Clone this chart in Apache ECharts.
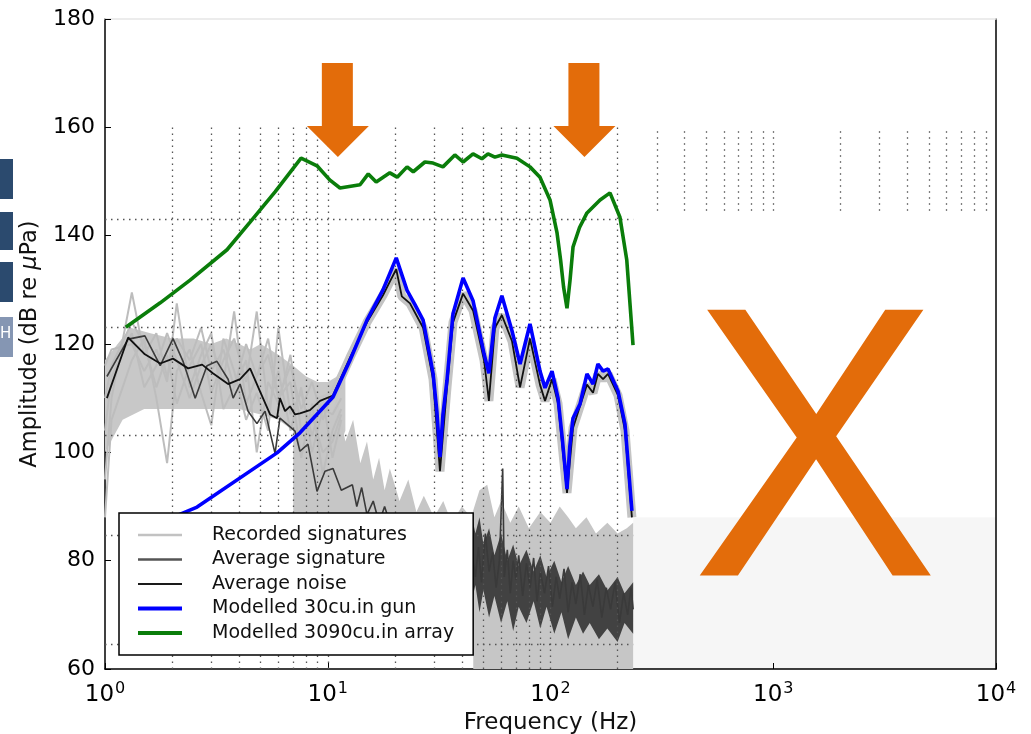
<!DOCTYPE html>
<html><head><meta charset="utf-8">
<script src="https://cdn.jsdelivr.net/npm/echarts@6/dist/echarts.min.js"></script>
<style>html,body{margin:0;padding:0;background:#fff}#c{width:1031px;height:734px}</style>
</head><body><div id="c"></div><script>
// ---------------- data (frequency in Hz, amplitude in dB re uPa) ----------------
const legendNames = ['Recorded signatures','Average signature','Average noise','Modelled 30cu.in gun','Modelled 3090cu.in array'];

const greenFreq = [1.24,1.77,2.41,3.53,4.48,5.80,7.59,8.95,10.2,11.35,13.96,15.2,16.5,19.0,20.5,22.7,24.2,27.3,29.7,32.9,37.2,40.5,44.9,49.2,52.4,56.3,60.5,70.7,80.9,89.7,99.5,107,111,114.5,118.6,122.4,126.2,135,145.8,166.9,185,205,220,234.7];
const greenDb   = [123.1,127.6,131.8,137.4,142.5,148.1,154.3,152.9,150.3,148.8,149.4,151.4,149.9,151.6,150.8,152.7,151.8,153.6,153.4,152.7,154.9,153.6,155.1,154.2,155.1,154.5,154.9,154.3,152.7,150.8,146.6,140.5,135.5,130.5,126.6,131.8,137.9,141.5,144.2,146.6,147.9,143.4,135.5,119.8];

const blueFreq = [1.44,2.59,5.92,7.5,10.56,12.59,15.0,17.7,20.3,22.7,24.6,26.8,29.7,30.9,31.9,32.9,34.3,36.5,40.5,44.9,50.3,52.9,56.3,60.5,67.2,73.0,80.9,89.7,94.5,101.6,108.1,113,118.6,122,126.2,135.6,145.8,155.2,163.3,172.2,181.2,201,216,232];
const blueDb   = [85.5,89.9,99.9,103.6,110.2,117.0,124.4,130.0,135.9,129.9,127.3,124.4,114.6,107.5,99.1,107.0,113.3,125.6,132.2,128.0,118.2,114.6,124.8,128.9,122.4,116.3,123.7,115.0,111.9,115.0,110.0,102.5,93.2,101,106.3,108.9,114.5,112.6,116.3,115.0,115.4,111.3,105.2,89.2];

const sigFreq = [1.02,1.27,1.51,1.77,2.02,2.36,2.73,3.05,3.57,4.04,4.48,4.97,5.51,5.92,6.10,6.43,6.77,7.13,7.50,8.32,9.23,10.56,12.59,15.0,17.7,19.0,20.3,21.5,23.4,26.8,29.7,31.9,34.3,36.5,40.5,44.9,50.3,52.9,56.3,60.5,67.2,73.0,80.9,89.7,94.5,101.6,108.1,118.6,126.2,135.6,145.8,155.2,163.3,172.2,181.2,201,216,232];
const sigDb   = [110.0,121.2,118.1,116.4,117.3,115.5,116.2,114.6,112.6,113.5,115.5,111.2,107.0,106.3,110.0,107.6,108.5,107.0,107.2,107.8,109.5,110.5,117.5,124.0,129.0,131.5,133.8,128.8,127.5,123.0,113.5,96.5,112.0,124.0,129.3,126.2,117.0,109.5,123.0,125.3,120.5,112.0,121.0,112.5,109.5,113.5,109.0,92.5,104.5,108.5,112.5,111.0,114.5,113.5,114.5,110.5,104.0,88.0];

const noiseFreq = [1.02,1.27,1.51,1.77,2.02,2.24,2.54,2.87,3.18,3.57,3.76,4.04,4.39,4.81,5.23,5.80,6.10,6.56,7.13,7.50,8.15,8.95,9.72,10.56,11.5,12.9,13.5,14.2,15,16,17,18,19.5,21,22.5,24,26,28,30,32,34,36,38,40,42,44,46,47.5,49,51,53,55,57,59,61,62,64,66,68,70,72,75,78,81,84,87,90,94,98,102,106,110,115,120,125,130,136,142,148,155,162,170,178,186,195,204,213,222,230,235];
const noiseDb   = [114,120.9,121.5,116,121,116.8,110,116,116.8,113.5,110,112.6,107.6,105.3,107.6,99.8,106.3,105.2,103.9,100.2,101.5,92.8,96.5,97,93,94,90,93.5,88.5,91,87,90,85.5,88,84,87.5,83,86.5,82,85,80,84,79,83.5,78,82,77,82.5,76,85,78,81.5,75,80,97,77,82,74,80,76.5,81,73.5,79.5,75,80.5,72.5,78,74,79,71.5,77,73,78.5,70.5,76,72,77.5,70,75.5,71.5,76.5,69.5,75,71,76,68.5,74,70,75,71];

const recFreq = [1.0,1.07,1.32,1.5,1.7,1.9,2.1,2.4,2.7,3.0,3.4,3.8,4.3,4.8,5.4,6.0,6.8,7.6,8.5,9.5,10.5,11.5];
const recA = [95,110,129.5,118,122,114,121,117,123,115,119,112,120,114,118,110,116,108,113,106,111,112];
const recB = [110,116,124,120,112,118,109,116,120,111,117,121,113,126,108,115,104,112,100,108,107,110];
const recC = [104,114,122,112,116,122,117,110,116,120,113,126,109,114,121,110,113,99,109,96,104,108];
const recD = [88,106,117,121,110,98,115,119,111,105,121,115,106,111,104,123,107,111,103,110,99,106];
const recE = [116,119,120,115,119,113,127.5,112,118,122,108,112,117,100,113,109,118,104,107,100,102,107];

const lowBandUpper = [[1,117],[1.3,123],[1.6,122],[2,121],[2.5,121],[3,120],[3.5,121],[4,120],[4.5,119],[5,120],[5.5,119],[6,118],[7,116],[8,114],[9,113],[10,113],[11,114],[12,117]];
const lowBandLower = [[12,104],[11,100],[10,100],[9,101],[8,103],[7,104],[6,106],[5,107],[4,108],[3,108],[2,108],[1.5,108],[1.2,106],[1,100]];
const floorLightUpper = [[7,110],[8,106],[9,111],[10,105],[11,110],[12,102],[13,106],[14,98],[15,102],[16,95],[17,99],[18,93],[19,97],[21,91],[23,95],[25,89],[27,92],[30,88],[33,91],[36,87],[40,90],[44,88],[48,93],[52,94],[56,88],[60,91],[66,87],[72,90],[80,86],[90,89],[100,87],[110,90],[120,88],[130,86],[145,88],[160,85],[180,87],[200,85],[220,86],[235,87]];
const floorLightLower = [[235,60],[45,60],[45,62.6],[7,62.6]];
const floorDarkUpper = [[44,89],[46,85],[48,88],[50,83],[53,86],[56,81],[60,85],[64,80],[68,83],[72,79],[78,82],[84,78],[90,81],[96,77],[104,80],[112,76],[120,79],[130,75.5],[140,78],[150,75.5],[165,77.5],[180,74.5],[200,77],[215,74],[235,76]];
const floorDarkLower = [[235,66.5],[215,68.5],[200,65],[180,67.5],[165,65.5],[150,68.5],[140,66.5],[130,69.5],[120,65.5],[112,70.5],[104,66.5],[96,71.5],[90,67.5],[84,72.5],[78,68.5],[72,71.5],[68,67],[64,72.5],[60,68.5],[56,73.5],[53,69.5],[50,74.5],[48,70.5],[46,75.5],[44,72]];

const gridFreqLow = [2,3,4,5,6,7,8,9,10,20,30,40,50,60,70,80,90,100,200];
const gridFreqHigh = [300,400,500,600,700,800,900,1000,2000,3000,4000,5000,6000,7000,8000,9000];
const gridLevels = [143.1,123.1,103.1,84.7,64.6];
const arrowsAt = [[11.1,163.2],[142,163.2]];

// ---------------- helpers ----------------
const pairs = (xs, ys) => xs.map((x, i) => [x, ys[i]]);
const FONT = 'DejaVu Sans';
function band(upper, lower, color) {
  return {
    type: 'custom', z: 1, silent: true, clip: true,
    data: [[upper[0][0], upper[0][1]]],
    renderItem: function (params, api) {
      const pts = upper.concat(lower).map(p => api.coord(p));
      return { type: 'polygon', shape: { points: pts }, style: { fill: color } };
    }
  };
}
function lineS(name, data, color, width, z) {
  return { type: 'line', name: name, data: data, showSymbol: false, symbol: 'none',
    lineStyle: { color: color, width: width }, itemStyle: { color: color }, z: z, silent: true, animation: false };
}

const gridLines = [];
gridFreqLow.forEach(f => gridLines.push([{ coord: [f, 60] }, { coord: [f, 160] }]));
gridFreqHigh.forEach(f => gridLines.push([{ coord: [f, 144.6] }, { coord: [f, 160] }]));
gridLevels.forEach(v => gridLines.push([{ coord: [1, v] }, { coord: [235, v] }]));

const hidden = { color: 'rgba(0,0,0,0)', borderWidth: 0, opacity: 0 };

const chart = echarts.init(document.getElementById('c'), null, { renderer: 'canvas' });
chart.setOption({
  animation: false,
  backgroundColor: '#fff',
  grid: { left: 105, right: 35, top: 19, bottom: 65, containLabel: false, outerBoundsMode: 'none' },
  xAxis: [{
    type: 'log', logBase: 10, min: 1, max: 10000, splitNumber: 4,
    name: 'Frequency (Hz)', nameLocation: 'middle', nameGap: 42,
    nameTextStyle: { fontFamily: FONT, fontSize: 23, color: '#111' },
    axisLine: { show: true, lineStyle: { color: '#000', width: 1.5 } },
    axisTick: { show: true, inside: true, length: 6, lineStyle: { color: '#000' } },
    splitLine: { show: false },
    axisLabel: {
      margin: 12,
      formatter: v => '{b|10}{s|' + Math.round(Math.log10(v)) + '}',
      rich: {
        b: { fontFamily: FONT, fontSize: 23, color: '#000' },
        s: { fontFamily: FONT, fontSize: 16, color: '#000', padding: [0, 0, 12, 1] }
      }
    }
  }, {
    type: 'log', logBase: 10, min: 1, max: 10000, position: 'top',
    axisLine: { show: true, onZero: false, lineStyle: { color: '#e6e6e6', width: 1.5 } },
    axisTick: { show: false }, axisLabel: { show: false }, splitLine: { show: false }
  }],
  yAxis: [{
    type: 'value', min: 60, max: 180, interval: 20,
    name: '{a|Amplitude (dB re }{i|μ}{a|Pa)}', nameLocation: 'middle', nameGap: 62, nameRotate: 90,
    nameTextStyle: { rich: {
      a: { fontFamily: FONT, fontSize: 22.5, color: '#111' },
      i: { fontFamily: FONT, fontSize: 22.5, fontStyle: 'italic', color: '#111' } } },
    axisLine: { show: true, lineStyle: { color: '#000', width: 1.5 } },
    axisTick: { show: true, inside: true, length: 6, lineStyle: { color: '#000' } },
    splitLine: { show: false },
    axisLabel: { margin: 10, fontFamily: FONT, fontSize: 22, color: '#000' }
  }, {
    type: 'value', min: 60, max: 180, position: 'right',
    axisLine: { show: true, lineStyle: { color: '#000', width: 1.5 } },
    axisTick: { show: false }, axisLabel: { show: false }, splitLine: { show: false }
  }],
  legend: {
    z: 50, zlevel: 0,
    orient: 'vertical', left: 119, top: 513,
    padding: [12, 19, 12, 17], itemGap: 4.5, itemWidth: 44, itemHeight: 14,
    backgroundColor: '#fff', borderColor: '#000', borderWidth: 1.5, borderRadius: 0,
    textStyle: { fontFamily: FONT, fontSize: 19, lineHeight: 20, color: '#111', padding: [0, 0, 0, 25] },
    itemStyle: hidden,
    selectedMode: false,
    data: [
      { name: legendNames[0], itemStyle: hidden, lineStyle: { color: '#c2c2c2', width: 2.5 } },
      { name: legendNames[1], itemStyle: hidden, lineStyle: { color: '#555', width: 2.5 } },
      { name: legendNames[2], itemStyle: hidden, lineStyle: { color: '#1a1a1a', width: 2 } },
      { name: legendNames[3], itemStyle: hidden, lineStyle: { color: '#0000ff', width: 4 } },
      { name: legendNames[4], itemStyle: hidden, lineStyle: { color: '#0a7d0a', width: 4 } }
    ]
  },
  graphic: [
    { type: 'rect', left: 0, top: 159, shape: { width: 13, height: 40 }, style: { fill: '#2b4a6e' } },
    { type: 'rect', left: 0, top: 212, shape: { width: 13, height: 38 }, style: { fill: '#2b4a6e' } },
    { type: 'rect', left: 0, top: 262, shape: { width: 13, height: 40 }, style: { fill: '#2b4a6e' } },
    { type: 'rect', left: 0, top: 317, shape: { width: 13, height: 40 }, style: { fill: '#8596b3' } },
    { type: 'text', left: 0, top: 327, style: { text: 'H', fill: '#fff', font: '15px "DejaVu Sans"' } },
    { type: 'text', x: 815, y: 469, z: 100, scaleX: 0.96,
      style: { text: 'X', fill: '#e36c0a', font: '386px "Liberation Sans"', align: 'center', verticalAlign: 'middle' } }
  ],
  series: [
    band(lowBandUpper, lowBandLower, '#c8c8c8'),
    band(floorLightUpper, floorLightLower, '#c6c6c6'),
    band(floorDarkUpper, floorDarkLower, '#424242'),
    { type: 'line', data: [], z: 2, silent: true,
      markLine: { silent: true, symbol: ['none', 'none'], animation: false, label: { show: false },
        lineStyle: { color: '#555', width: 1.3, type: [1.5, 4.5] }, data: gridLines },
      markArea: { silent: true, itemStyle: { color: 'rgba(0,0,0,0.035)' },
        data: [[{ coord: [235, 88] }, { coord: [10000, 60] }]] } },
    lineS(legendNames[0], pairs(recFreq, recA), '#bdbdbd', 2, 3),
    lineS(legendNames[0], pairs(recFreq, recB), '#bdbdbd', 2, 3),
    lineS(legendNames[0], pairs(recFreq, recC), '#bdbdbd', 2, 3),
    lineS(legendNames[0], pairs(recFreq, recD), '#bdbdbd', 2, 3),
    lineS(legendNames[0], pairs(recFreq, recE), '#bdbdbd', 2, 3),
    lineS(legendNames[0], pairs(sigFreq.slice(20), sigDb.slice(20)), '#c4c4c4', 9, 3),
    lineS(legendNames[2], pairs(noiseFreq, noiseDb), '#3a3a3a', 1.6, 4),
    lineS(legendNames[1], pairs(sigFreq, sigDb), '#111', 1.8, 5),
    lineS(legendNames[3], pairs(blueFreq, blueDb), '#0000ff', 3.6, 6),
    lineS(legendNames[4], pairs(greenFreq, greenDb), '#0a7d0a', 3.6, 6),
    { type: 'line', data: [], z: 20, silent: true,
      markPoint: { silent: true, animation: false, label: { show: false },
        symbol: 'path://M15,0 L46,0 L46,63 L62,63 L31,94 L0,63 L15,63 Z', symbolSize: [62, 94],
        itemStyle: { color: '#e36c0a' },
        data: arrowsAt.map(p => ({ coord: p })) } }
  ]
});
</script></body></html>
